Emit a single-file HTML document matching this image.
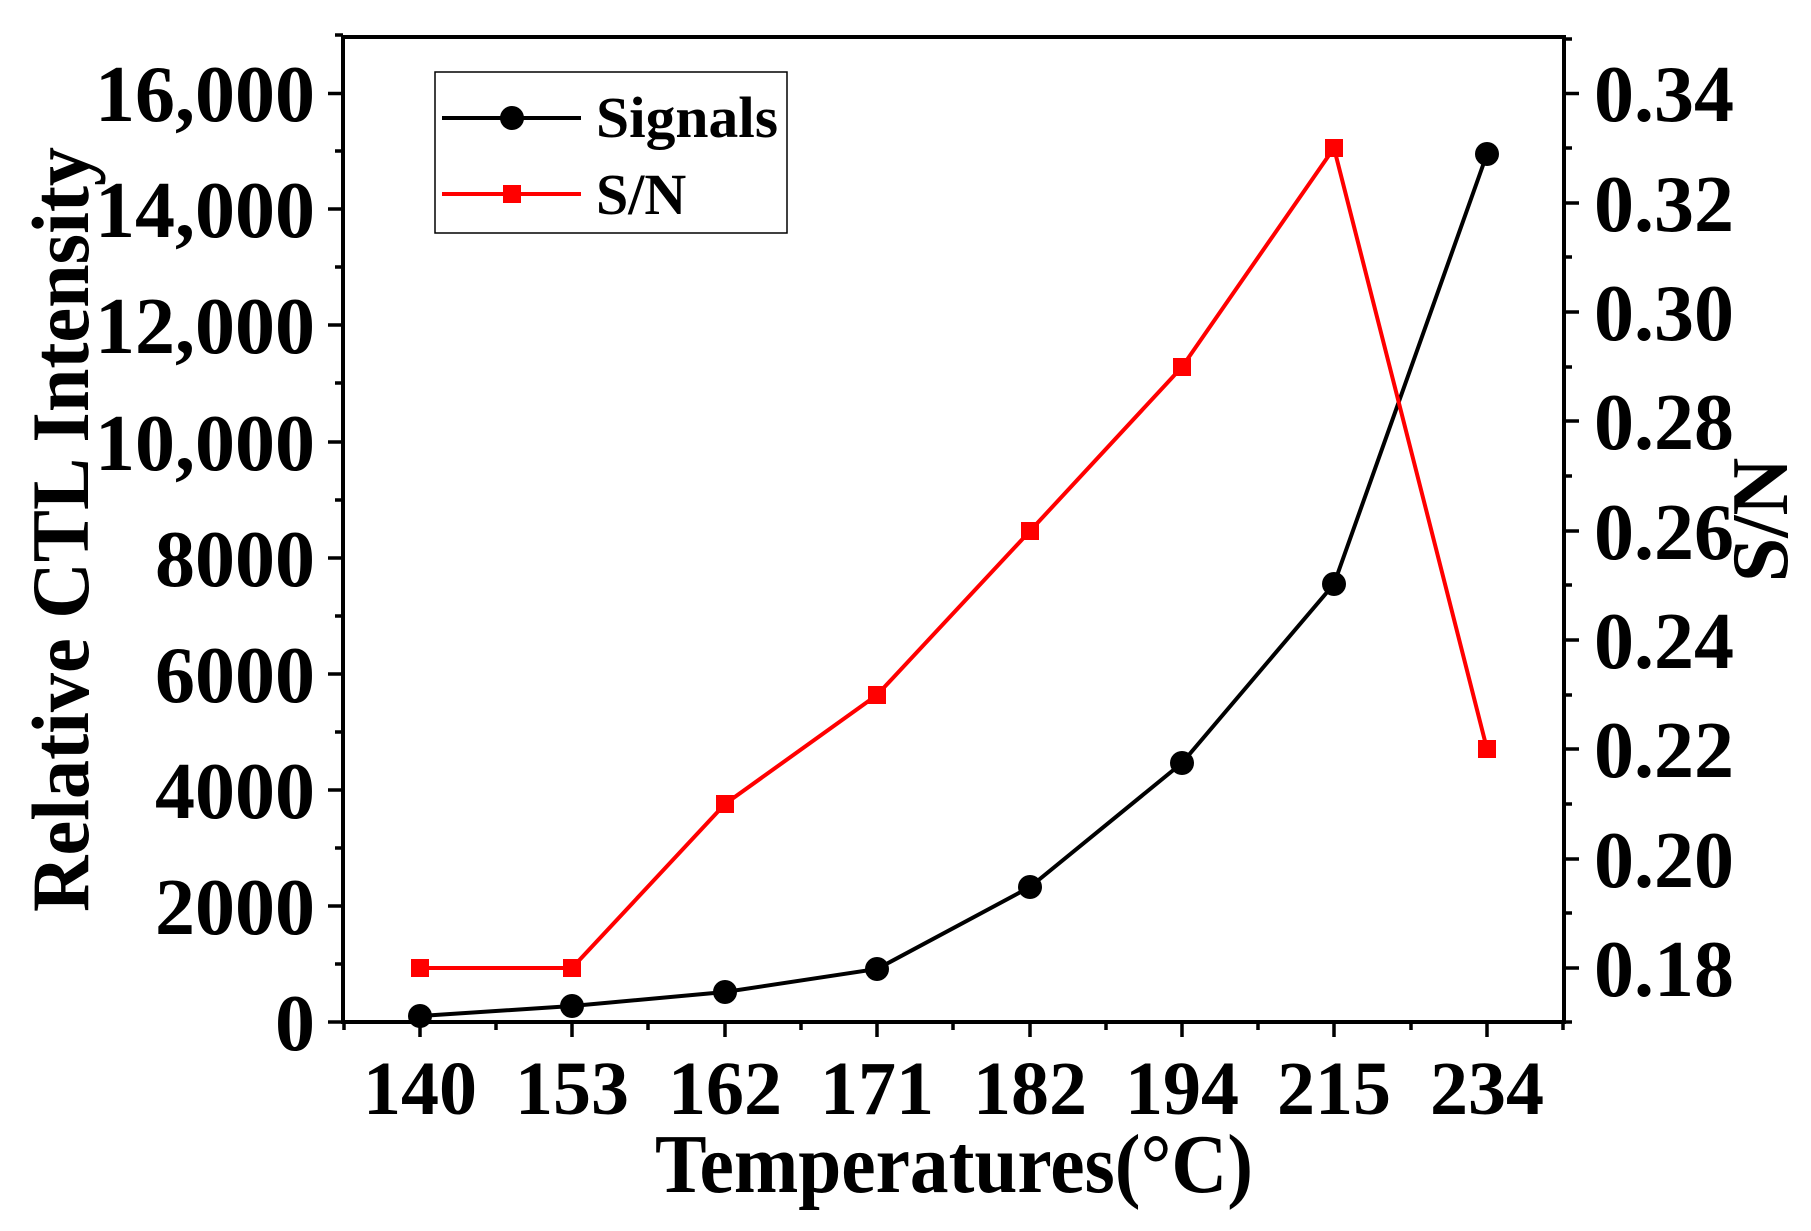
<!DOCTYPE html>
<html><head><style>body{margin:0;background:#fff}svg{display:block}text{font-family:"Liberation Serif",serif;font-weight:bold;fill:#000}</style></head>
<body>
<svg width="1811" height="1231" viewBox="0 0 1811 1231" xmlns="http://www.w3.org/2000/svg">
<g stroke="#000" stroke-width="4" fill="none">
<rect x="343" y="37" width="1221" height="985"/>
</g>
<g stroke="#000" stroke-width="3.5">
<path d="M343 1022h-15M343 906h-15M343 790h-15M343 674h-15M343 558h-15M343 442h-15M343 325h-15M343 209h-15M343 93.5h-15"/>
<path d="M343 964h-8M343 848h-8M343 732h-8M343 616h-8M343 500h-8M343 383h-8M343 267h-8M343 151h-8M343 35h-8"/>
<path d="M1564 968h15M1564 859h15M1564 749h15M1564 640h15M1564 531h15M1564 421h15M1564 312h15M1564 203h15M1564 93.5h15"/>
<path d="M1564 1022h8M1564 913h8M1564 804h8M1564 695h8M1564 585h8M1564 476h8M1564 367h8M1564 257h8M1564 148h8M1564 39h8"/>
<path d="M420 1022v15M572 1022v15M725 1022v15M877 1022v15M1030 1022v15M1182 1022v15M1334 1022v15M1487 1022v15"/>
<path d="M344 1022v8M496 1022v8M648 1022v8M801 1022v8M953 1022v8M1106 1022v8M1258 1022v8M1411 1022v8M1563 1022v8"/>
</g>
<g font-size="80" text-anchor="end">
<text x="315" y="1050">0</text><text x="315" y="934">2000</text><text x="315" y="818">4000</text><text x="315" y="702">6000</text><text x="315" y="586">8000</text><text x="315" y="470">10,000</text><text x="315" y="353">12,000</text><text x="315" y="237">14,000</text><text x="315" y="121">16,000</text>
</g>
<g font-size="80">
<text x="1594" y="996">0.18</text><text x="1594" y="887">0.20</text><text x="1594" y="777">0.22</text><text x="1594" y="668">0.24</text><text x="1594" y="559">0.26</text><text x="1594" y="449">0.28</text><text x="1594" y="340">0.30</text><text x="1594" y="231">0.32</text><text x="1594" y="121">0.34</text>
</g>
<g font-size="76" text-anchor="middle">
<text x="420" y="1114">140</text><text x="572" y="1114">153</text><text x="725" y="1114">162</text><text x="877" y="1114">171</text><text x="1030" y="1114">182</text><text x="1182" y="1114">194</text><text x="1334" y="1114">215</text><text x="1487" y="1114">234</text>
</g>
<text x="655" y="1192" font-size="84" textLength="598" lengthAdjust="spacingAndGlyphs">Temperatures(°C)</text>
<text transform="translate(88,912) rotate(-90)" font-size="82" textLength="765" lengthAdjust="spacingAndGlyphs">Relative CTL Intensity</text>
<text transform="translate(1787,520) rotate(-90)" font-size="80" text-anchor="middle">S/N</text>
<polyline fill="none" stroke="#000" stroke-width="4" points="420,1016 572,1006 725,992 877,969 1030,887 1182,763 1334,584 1487,154"/>
<g fill="#000"><circle cx="420" cy="1016" r="12"/><circle cx="572" cy="1006" r="12"/><circle cx="725" cy="992" r="12"/><circle cx="877" cy="969" r="12"/><circle cx="1030" cy="887" r="12"/><circle cx="1182" cy="763" r="12"/><circle cx="1334" cy="584" r="12"/><circle cx="1487" cy="154" r="12"/></g>
<polyline fill="none" stroke="#f00" stroke-width="4" points="420,968 572,968 725,804 877,695 1030,531 1182,367 1334,148 1487,749"/>
<g fill="#f00"><rect x="411" y="959" width="18" height="18"/><rect x="563" y="959" width="18" height="18"/><rect x="716" y="795" width="18" height="18"/><rect x="868" y="686" width="18" height="18"/><rect x="1021" y="522" width="18" height="18"/><rect x="1173" y="358" width="18" height="18"/><rect x="1325" y="139" width="18" height="18"/><rect x="1478" y="740" width="18" height="18"/></g>
<rect x="435" y="72" width="352" height="161" fill="none" stroke="#000" stroke-width="1.5"/>
<line x1="442" y1="118" x2="581" y2="118" stroke="#000" stroke-width="4"/>
<circle cx="512" cy="118" r="12" fill="#000"/>
<text x="596" y="137" font-size="58" textLength="182" lengthAdjust="spacingAndGlyphs">Signals</text>
<line x1="442" y1="194" x2="581" y2="194" stroke="#f00" stroke-width="4"/>
<rect x="503" y="185" width="18" height="18" fill="#f00"/>
<text x="596" y="214" font-size="58">S/N</text>
</svg>
</body></html>
